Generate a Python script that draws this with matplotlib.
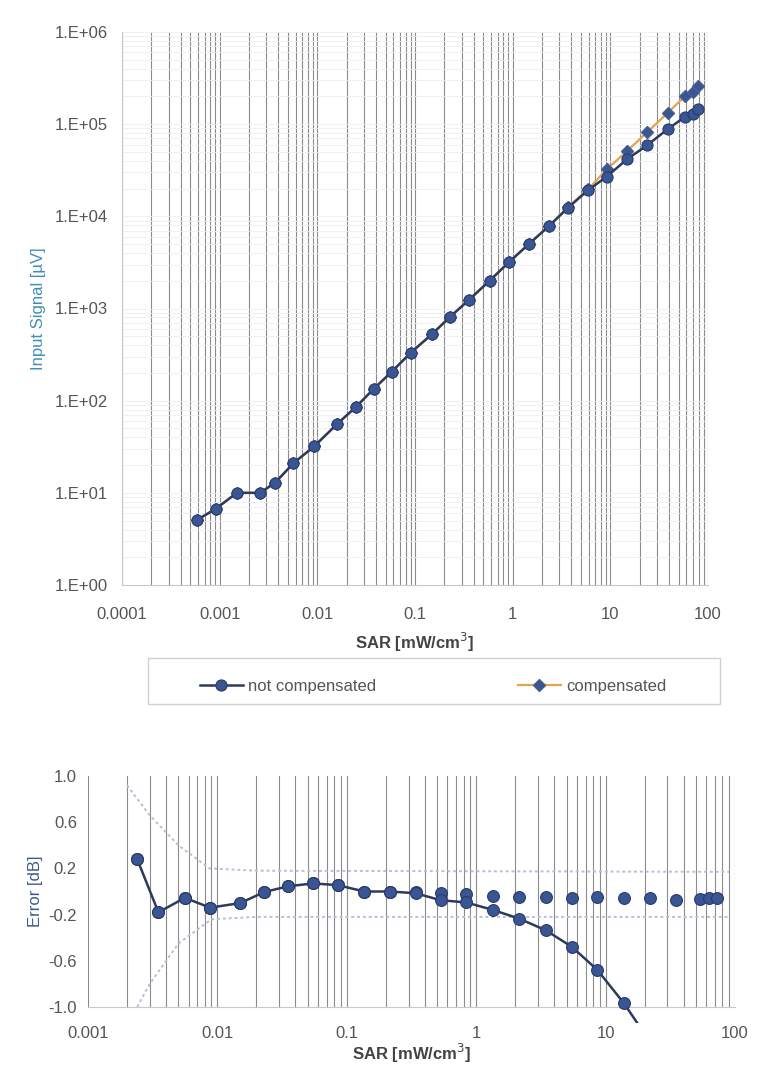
import matplotlib.pyplot as plt
from matplotlib.ticker import FixedLocator, LogLocator, NullFormatter
from matplotlib.patches import Rectangle

plt.rcParams['font.family'] = ['Liberation Sans', 'DejaVu Sans']

# top chart: input signal vs SAR
sar_top = [0.00059, 0.00091, 0.0015, 0.0026, 0.0037, 0.0057, 0.0093, 0.016, 0.025,
           0.038, 0.058, 0.091, 0.148, 0.23, 0.36, 0.58, 0.91, 1.46, 2.34, 3.66,
           5.9, 9.2, 14.8, 23.8, 38.5, 58, 70, 79]
signal_not_comp = [5.1, 6.7, 10, 10, 12.9, 21, 32, 56, 86, 135, 207, 333, 523, 816,
                   1250, 2000, 3160, 4990, 7800, 12300, 19200, 27000, 41600, 59000,
                   88000, 120000, 129000, 145000]
signal_comp = [5.1, 6.7, 10, 10, 12.9, 21, 32, 56, 86, 135, 207, 333, 523, 816,
               1250, 2000, 3160, 4990, 7800, 12500, 19600, 32400, 51000, 81700,
               132000, 201000, 224000, 259000]

# bottom chart: error vs SAR
sar_err = [0.0024, 0.0035, 0.0056, 0.0088, 0.015, 0.023, 0.035, 0.055, 0.085, 0.137,
           0.215, 0.34, 0.53, 0.84, 1.35, 2.15, 3.44, 5.5, 8.65, 13.8, 22, 35, 54, 63, 72]
err_not_comp = [0.28, -0.18, -0.055, -0.14, -0.1, -0.005, 0.045, 0.07, 0.055, 0.0,
                0.0, -0.015, -0.075, -0.095, -0.16, -0.235, -0.335, -0.48, -0.68,
                -0.965, -1.3]
err_comp = [0.28, -0.18, -0.055, -0.14, -0.1, -0.005, 0.045, 0.07, 0.055, 0.0,
            0.0, 0.0, -0.015, -0.02, -0.04, -0.05, -0.05, -0.055, -0.05, -0.055,
            -0.06, -0.07, -0.065, -0.055, -0.055]

# uncertainty bounds (dotted)
bound_up_x = [0.002, 0.003, 0.005, 0.0087, 0.02, 90]
bound_up = [0.92, 0.66, 0.4, 0.2, 0.18, 0.17]
bound_lo_x = [0.0024, 0.003, 0.005, 0.009, 0.02, 90]
bound_lo = [-1.0, -0.8, -0.45, -0.24, -0.22, -0.22]

x_ticks_top = [0.0001, 0.001, 0.01, 0.1, 1, 10, 100]
x_labels_top = ['0.0001', '0.001', '0.01', '0.1', '1', '10', '100']
y_ticks_top = [1, 10, 100, 1000, 10000, 100000, 1000000]
y_labels_top = ['1.E+00', '1.E+01', '1.E+02', '1.E+03', '1.E+04', '1.E+05', '1.E+06']
x_ticks_err = [0.001, 0.01, 0.1, 1, 10, 100]
x_labels_err = ['0.001', '0.01', '0.1', '1', '10', '100']
y_ticks_err = [-1.0, -0.6, -0.2, 0.2, 0.6, 1.0]

navy = '#2e3a5c'
blue = '#3a5594'
orange = '#e2a54e'
grid_col = '#8c8c8c'
txt = '#555555'

fig = plt.figure(figsize=(7.6, 10.86), dpi=100)

ax1 = fig.add_axes([122/760, 1-585/1086, 586/760, 553/1086])
ax1.set_xscale('log')
ax1.set_yscale('log')
ax1.plot(sar_top, signal_comp, color=orange, lw=1.6, marker='D', ms=6,
         mfc=blue, mec='#4a5f8f', zorder=3, label='compensated')
ax1.plot(sar_top, signal_not_comp, color=navy, lw=1.8, marker='o', ms=8,
         mfc=blue, mec='#2a3a66', mew=0.8, zorder=4, label='not compensated')
ax1.set_xlim(0.0001, 100)
ax1.set_ylim(1, 1e6)
ax1.xaxis.set_major_locator(FixedLocator(x_ticks_top))
ax1.set_xticklabels(x_labels_top)
ax1.xaxis.set_minor_locator(LogLocator(base=10, subs=range(2, 10), numticks=20))
ax1.xaxis.set_minor_formatter(NullFormatter())
ax1.yaxis.set_major_locator(FixedLocator(y_ticks_top))
ax1.set_yticklabels(y_labels_top)
ax1.yaxis.set_minor_locator(LogLocator(base=10, subs=range(2, 10), numticks=20))
ax1.yaxis.set_minor_formatter(NullFormatter())
ax1.grid(True, axis='x', which='both', color=grid_col, lw=0.8)
ax1.grid(True, axis='y', which='both', color='#ececf2', lw=0.6)
ax1.tick_params(which='both', length=0, labelsize=12, labelcolor=txt)
ax1.tick_params(axis='x', pad=16)
ax1.tick_params(axis='y', pad=10)
for s in ['top', 'right']:
    ax1.spines[s].set_visible(False)
for s in ['left', 'bottom']:
    ax1.spines[s].set_color('#c8c8c8')
ax1.set_xlabel('SAR [mW/cm$^3$]', fontsize=12, fontweight='bold', color='#444444', labelpad=6)
ax1.set_ylabel('Input Signal [µV]', fontsize=12, color='#3f8fb8')
ax1.yaxis.set_label_coords(-0.13, 0.5)

# legend box below the top chart
fig.patches.append(Rectangle((148/760, 1-704/1086), 572/760, 46/1086,
                             transform=fig.transFigure, fill=False,
                             ec='#d0d0d0', lw=1.0))
handles, labels = ax1.get_legend_handles_labels()
fig.legend(handles[::-1], labels[::-1], loc='center', ncol=2,
           bbox_to_anchor=(433/760, 1-686/1086), frameon=False, fontsize=12,
           handlelength=2.6, handletextpad=0.3, columnspacing=8.5,
           labelcolor=txt)

ax2 = fig.add_axes([88/760, 1-1007/1086, 647/760, 231/1086])
ax2.set_xscale('log')
ax2.plot(bound_up_x, bound_up, color='#b8bfd6', lw=1.4, ls=(0, (1.5, 1.5)), zorder=2)
ax2.plot(bound_lo_x, bound_lo, color='#b8bfd6', lw=1.4, ls=(0, (1.5, 1.5)), zorder=2)
ax2.plot(sar_err, err_comp, ls='none', marker='o', ms=8.5, mfc=blue,
         mec='#2a3a66', mew=0.8, zorder=3)
nc_line, = ax2.plot(sar_err[:len(err_not_comp)], err_not_comp, color=navy, lw=1.8,
                    marker='o', ms=8.5, mfc=blue, mec='#2a3a66', mew=0.8, zorder=4,
                    markevery=list(range(len(err_not_comp) - 1)))
# let the falling line run a little past the bottom axis, as in the original
nc_line.set_clip_path(Rectangle((0, -0.07), 1, 1.07, transform=ax2.transAxes))
ax2.set_xlim(0.001, 100)
ax2.set_ylim(-1.0, 1.0)
ax2.xaxis.set_major_locator(FixedLocator(x_ticks_err))
ax2.set_xticklabels(x_labels_err)
ax2.xaxis.set_minor_locator(LogLocator(base=10, subs=range(2, 10), numticks=20))
ax2.xaxis.set_minor_formatter(NullFormatter())
ax2.yaxis.set_major_locator(FixedLocator(y_ticks_err))
ax2.set_yticklabels(['%.1f' % v for v in y_ticks_err])
ax2.grid(True, axis='x', which='both', color=grid_col, lw=0.8)
ax2.tick_params(which='both', length=0, labelsize=12, labelcolor=txt)
ax2.tick_params(axis='x', pad=14)
ax2.tick_params(axis='y', pad=8)
for s in ['top', 'right', 'left']:
    ax2.spines[s].set_visible(False)
ax2.spines['bottom'].set_color('#c8c8c8')
ax2.set_xlabel('SAR [mW/cm$^3$]', fontsize=12, fontweight='bold', color='#444444', labelpad=0)
ax2.set_ylabel('Error [dB]', fontsize=12, color='#3f5a8f')
ax2.yaxis.set_label_coords(-0.07, 0.5)

plt.savefig('out.png', dpi=100)
